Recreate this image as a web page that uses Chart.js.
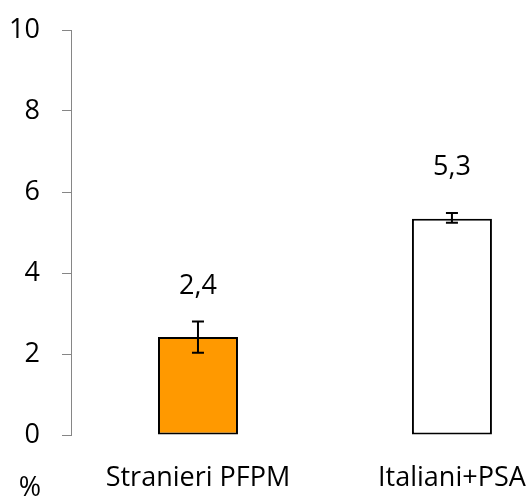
<!DOCTYPE html>
<html>
<head>
<meta charset="utf-8">
<script src="https://cdn.jsdelivr.net/npm/chart.js@4/dist/chart.umd.min.js"></script>
<style>
    html, body { margin: 0; padding: 0; background: #fff; }
    #wrap { width: 529px; height: 498px; }
</style>
</head>
<body>
<div id="wrap"><canvas id="barchart"></canvas></div>
<script>
const categories = ['Stranieri PFPM', 'Italiani+PSA'];
const values = [2.42, 5.34];
const errLow = [2.03, 5.24];
const errHigh = [2.8, 5.48];
const valueLabels = ['2,4', '5,3'];
const barColors = ['#FF9900', '#FFFFFF'];
const yTicks = [0, 2, 4, 6, 8, 10];

const FONT = '"Open Sans", Lato, sans-serif';

// error bars + value labels
const extras = {
    id: 'extras',
    afterDatasetsDraw(chart) {
        const ctx = chart.ctx;
        const x = chart.scales.x;
        const y = chart.scales.y;
        ctx.save();
        ctx.strokeStyle = '#000';
        ctx.lineWidth = 2;
        values.forEach(function(v, i) {
            const px = x.getPixelForValue(i);
            const top = y.getPixelForValue(errHigh[i]);
            const bot = y.getPixelForValue(errLow[i]);
            ctx.beginPath();
            ctx.moveTo(px, top); ctx.lineTo(px, bot);
            ctx.moveTo(px - 6, top); ctx.lineTo(px + 6, top);
            ctx.moveTo(px - 6, bot); ctx.lineTo(px + 6, bot);
            ctx.stroke();

            ctx.fillStyle = '#000';
            ctx.font = '27px ' + FONT;
            ctx.textAlign = 'center';
            ctx.textBaseline = 'middle';
            ctx.fillText(valueLabels[i], px, y.getPixelForValue(v) - 51);
        });
        ctx.font = '27px ' + FONT;
        ctx.textAlign = 'center';
        ctx.textBaseline = 'middle';
        ctx.fillText('%', 30, 488);
        ctx.restore();
    }
};

const ctx = document.querySelector('#barchart').getContext('2d');

new Chart(ctx, {
    type: 'bar',
    data: {
        datasets: [
            {
                data: values.map(function(v, i) { return { x: i, y: v }; }),
                backgroundColor: barColors,
                borderColor: '#000',
                borderWidth: 2,
                borderSkipped: false,
                barPercentage: 0.315,
                categoryPercentage: 1
            }
        ]
    },
    options: {
        responsive: true,
        maintainAspectRatio: false,
        animation: false,
        layout: {
            padding: { top: 30, right: 9, left: 10, bottom: 0 }
        },
        plugins: {
            legend: { display: false },
            tooltip: { enabled: false }
        },
        scales: {
            x: {
                type: 'linear',
                offset: false,
                min: -0.5,
                max: 1.268,
                grid: { display: false },
                border: { display: false },
                afterBuildTicks: function(axis) {
                    axis.ticks = categories.map(function(c, i) { return { value: i }; });
                },
                afterFit: function(axis) {
                    axis.height = 63;
                    axis.paddingLeft = 0;
                    axis.paddingRight = 0;
                },
                ticks: {
                    padding: 19,
                    color: '#000',
                    font: { size: 27, family: FONT },
                    maxRotation: 0,
                    autoSkip: false,
                    callback: function(val) { return categories[val] || ''; }
                }
            },
            y: {
                min: 0,
                max: 10,
                afterBuildTicks: function(axis) {
                    axis.ticks = yTicks.map(function(v) { return { value: v }; });
                },
                afterFit: function(axis) {
                    axis.width = 61;
                    axis.paddingTop = 0;
                    axis.paddingBottom = 0;
                },
                grid: {
                    drawOnChartArea: false,
                    drawTicks: true,
                    tickLength: 9,
                    color: '#868686',
                    lineWidth: 1
                },
                border: { display: true, color: '#868686', width: 1 },
                ticks: {
                    padding: 22,
                    color: '#000',
                    font: { size: 27, family: FONT }
                }
            }
        }
    },
    plugins: [extras]
});
</script>
</body>
</html>
